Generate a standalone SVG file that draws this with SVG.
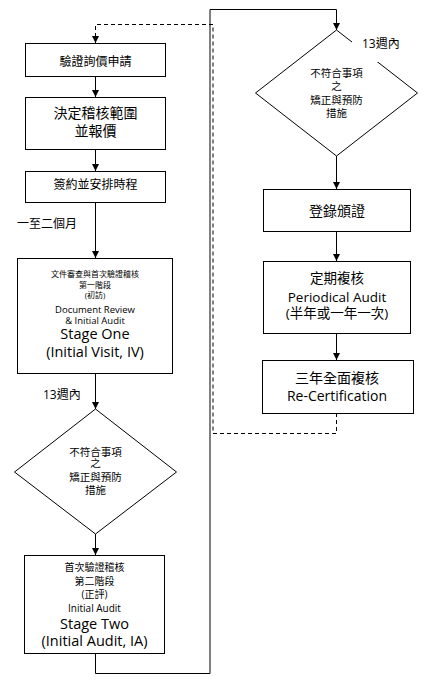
<svg xmlns="http://www.w3.org/2000/svg" width="430" height="684" viewBox="0 0 430 684">
<style>
.box{fill:#fff;stroke:#000;stroke-width:1}
.ln{fill:none;stroke:#000;stroke-width:1}
.dash{fill:none;stroke:#000;stroke-width:1;stroke-dasharray:4 3}
text{font-family:"Open Sans","Noto Sans CJK TC",sans-serif;fill:#000;text-anchor:middle}
.lbl{text-anchor:start}
</style>
<defs>
<marker id="ah" viewBox="0 0 8 8" refX="8" refY="4" markerWidth="7" markerHeight="7" markerUnits="userSpaceOnUse" orient="auto">
<path d="M0,0 L8,4 L0,8 Z" fill="#000"/>
</marker>
</defs>
<rect width="430" height="684" fill="#fff"/>
<g id="connectors">
<path class="ln" d="M95.5,76 V97" marker-end="url(#ah)"/>
<path class="ln" d="M95.5,149 V171" marker-end="url(#ah)"/>
<path class="ln" d="M95.5,202 V258" marker-end="url(#ah)"/>
<path class="ln" d="M95.5,373 V409" marker-end="url(#ah)"/>
<path class="ln" d="M95.5,534 V555" marker-end="url(#ah)"/>
<path class="ln" d="M95.5,653 V673.5 H210 V9.5 H336.5 V30" marker-end="url(#ah)"/>
<path class="ln" d="M336.5,156 V189" marker-end="url(#ah)"/>
<path class="ln" d="M336.5,231 V261" marker-end="url(#ah)"/>
<path class="ln" d="M336.5,333 V360" marker-end="url(#ah)"/>
<path class="dash" d="M336.5,413 V433.5 H213 V24.5 H95.5 V43" marker-end="url(#ah)"/>
</g>
<g id="n1">
<rect class="box" x="25.5" y="43.5" width="140" height="33"/>
<text x="95.5" y="66" font-size="12">驗證詢價申請</text>
</g>
<g id="n2">
<rect class="box" x="25.5" y="97.5" width="140" height="52"/>
<text x="95.5" y="118" font-size="14">決定稽核範圍</text>
<text x="95.5" y="136" font-size="14">並報價</text>
</g>
<g id="n3">
<rect class="box" x="25.5" y="171.5" width="140" height="31"/>
<text x="95.5" y="189" font-size="12">簽約並安排時程</text>
</g>
<g id="l1">
<text class="lbl" x="17" y="228" font-size="12">一至二個月</text>
</g>
<g id="n4">
<rect class="box" x="17.5" y="258.5" width="155" height="115"/>
<text x="95" y="277" font-size="8">文件審查與首次驗證稽核</text>
<text x="95" y="288" font-size="8">第一階段</text>
<text x="95" y="298" font-size="8">(初訪)</text>
<text x="95" y="313" font-size="9.5">Document Review</text>
<text x="95" y="324" font-size="9.5">&amp; Initial Audit</text>
<text x="95" y="339" font-size="14.5">Stage One</text>
<text x="95" y="357" font-size="14.5">(Initial Visit, IV)</text>
</g>
<g id="l2">
<text class="lbl" x="43" y="399" font-size="12">13週內</text>
</g>
<g id="d1">
<polygon class="box" points="95.5,409 176.5,472 95.5,534 14.5,472"/>
<text x="95.5" y="456" font-size="10.5">不符合事項</text>
<text x="95.5" y="467" font-size="10.5">之</text>
<text x="95.5" y="481" font-size="10.5">矯正與預防</text>
<text x="95.5" y="494" font-size="10.5">措施</text>
</g>
<g id="n5">
<rect class="box" x="24.5" y="555.5" width="140" height="98"/>
<text x="94.5" y="571" font-size="10">首次驗證稽核</text>
<text x="94.5" y="585" font-size="10">第二階段</text>
<text x="94.5" y="598" font-size="10">(正評)</text>
<text x="94.5" y="612" font-size="10">Initial Audit</text>
<text x="94.5" y="629" font-size="14.5">Stage Two</text>
<text x="94.5" y="646" font-size="14.5">(Initial Audit, IA)</text>
</g>
<g id="d2">
<polygon class="box" points="336.5,30 417.5,93 336.5,156 255.5,93"/>
<text x="336.5" y="77" font-size="10.5">不符合事項</text>
<text x="336.5" y="90" font-size="10.5">之</text>
<text x="336.5" y="104" font-size="10.5">矯正與預防</text>
<text x="336.5" y="117" font-size="10.5">措施</text>
</g>
<g id="l3">
<rect x="352" y="36" width="50" height="26" fill="#fff"/>
<text class="lbl" x="362" y="48" font-size="12">13週內</text>
</g>
<g id="n6">
<rect class="box" x="263.5" y="189.5" width="147" height="42"/>
<text x="337" y="216" font-size="14">登錄頒證</text>
</g>
<g id="n7">
<rect class="box" x="263.5" y="261.5" width="147" height="72"/>
<text x="337" y="283" font-size="13.5">定期複核</text>
<text x="337" y="302" font-size="13.5">Periodical Audit</text>
<text x="337" y="318" font-size="13.5">(半年或一年一次)</text>
</g>
<g id="n8">
<rect class="box" x="262.5" y="360.5" width="151" height="53"/>
<text x="337" y="383" font-size="14">三年全面複核</text>
<text x="337" y="401" font-size="14">Re-Certification</text>
</g>
</svg>
